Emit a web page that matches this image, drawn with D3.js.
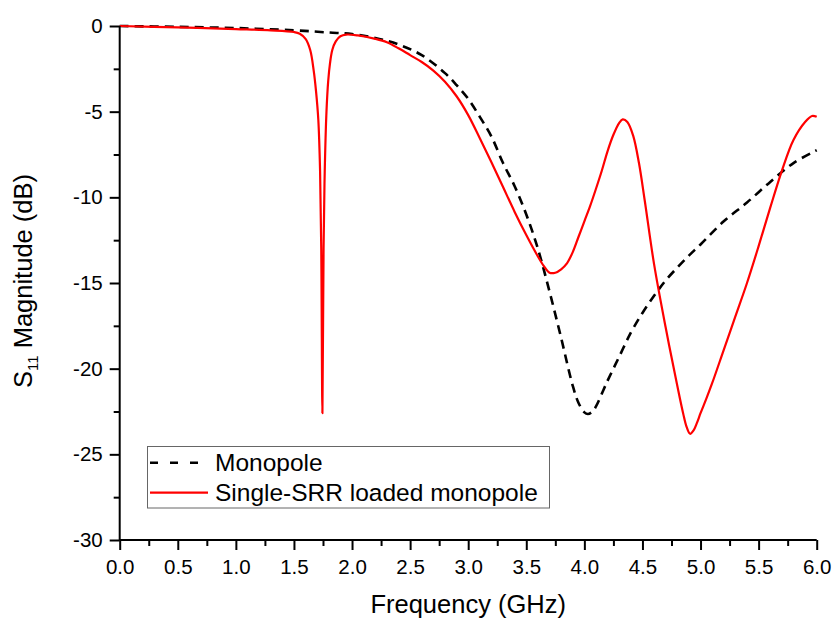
<!DOCTYPE html>
<html>
<head>
<meta charset="utf-8">
<script src="https://cdn.jsdelivr.net/npm/d3@7"></script>
<style>
  html, body { margin: 0; padding: 0; background: #fff; }
  svg { display: block; font-family: "Liberation Sans", Arial, sans-serif; }
</style>
</head>
<body>
<svg id="chart" width="832" height="619"></svg>
<script>
// ---- data ----
const monoFreq = [0, 0.5, 1.0, 1.5, 1.8, 2.0, 2.2, 2.4, 2.6, 2.8, 2.9, 3.0, 3.1, 3.2, 3.3, 3.4, 3.5, 3.6, 3.7, 3.8, 3.9, 3.95, 4.0, 4.03, 4.07, 4.1, 4.2, 4.3, 4.4, 4.5, 4.6, 4.7, 4.8, 4.9, 5.0, 5.2, 5.4, 5.6, 5.8, 6.0];
const monoS11 = [0, -0.05, -0.12, -0.25, -0.38, -0.47, -0.7, -1.08, -1.7, -2.75, -3.45, -4.25, -5.3, -6.45, -8.0, -9.35, -11.0, -13.0, -15.5, -18.2, -21.0, -22.0, -22.55, -22.65, -22.5, -22.2, -20.7, -19.3, -17.9, -16.75, -15.75, -14.85, -14.1, -13.4, -12.75, -11.4, -10.3, -9.1, -8.0, -7.25];

const srrFreq = [0, 0.5, 1.0, 1.3, 1.5, 1.55, 1.6, 1.64, 1.67, 1.69, 1.71, 1.725, 1.735, 1.745, 1.755, 1.765, 1.78, 1.795, 1.81, 1.83, 1.86, 1.9, 1.95, 2.05, 2.2, 2.3, 2.4, 2.5, 2.6, 2.7, 2.8, 2.9, 3.0, 3.1, 3.2, 3.3, 3.4, 3.5, 3.6, 3.65, 3.7, 3.75, 3.8, 3.85, 3.9, 3.95, 4.0, 4.05, 4.1, 4.15, 4.2, 4.25, 4.3, 4.33, 4.37, 4.42, 4.47, 4.52, 4.6, 4.7, 4.8, 4.85, 4.88, 4.91, 4.94, 4.97, 5.0, 5.05, 5.1, 5.2, 5.3, 5.4, 5.5, 5.6, 5.7, 5.8, 5.9, 5.96, 6.0];
const srrS11 = [0, -0.08, -0.18, -0.25, -0.35, -0.45, -0.75, -1.4, -2.6, -3.8, -5.5, -8.5, -13, -22.6, -13, -8.5, -5.0, -3.2, -2.2, -1.4, -0.9, -0.6, -0.5, -0.55, -0.75, -0.95, -1.3, -1.7, -2.1, -2.6, -3.25, -4.1, -5.2, -6.55, -7.95, -9.4, -10.85, -12.2, -13.45, -14.0, -14.4, -14.4, -14.2, -13.85, -13.2, -12.3, -11.4, -10.5, -9.5, -8.45, -7.3, -6.35, -5.65, -5.45, -5.6, -6.4, -8.0, -10.2, -13.9, -17.6, -21.0, -22.6, -23.4, -23.8, -23.6, -23.15, -22.6, -21.75, -20.85, -18.9, -16.95, -15.0, -12.85, -10.6, -8.45, -6.65, -5.6, -5.25, -5.3];

const xTicks = [0, 0.5, 1.0, 1.5, 2.0, 2.5, 3.0, 3.5, 4.0, 4.5, 5.0, 5.5, 6.0];
const xMinorTicks = [0.25, 0.75, 1.25, 1.75, 2.25, 2.75, 3.25, 3.75, 4.25, 4.75, 5.25, 5.75];
const yTicks = [0, -5, -10, -15, -20, -25, -30];
const yMinorTicks = [-2.5, -7.5, -12.5, -17.5, -22.5, -27.5];
const seriesNames = ["Monopole", "Single-SRR loaded monopole"];
const xTitle = "Frequency (GHz)";

// ---- chart ----
const svg = d3.select("#chart");
const x = d3.scaleLinear().domain([0, 6]).range([119.7, 816.7]);
const y = d3.scaleLinear().domain([-30, 0]).range([540, 26]);

const line = d3.line()
  .x(d => x(d[0])).y(d => y(d[1]))
  .curve(d3.curveCatmullRom.alpha(0.5));

const monoData = monoFreq.map((f, i) => [f, monoS11[i]]);
const srrData = srrFreq.map((f, i) => [f, srrS11[i]]);

svg.append("path").datum(monoData)
  .attr("d", line).attr("fill", "none")
  .attr("stroke", "#000").attr("stroke-width", 2.6)
  .attr("stroke-dasharray", "9,6");

svg.append("path").datum(srrData)
  .attr("d", line).attr("fill", "none")
  .attr("stroke", "#ff0000").attr("stroke-width", 2.2)
  .attr("stroke-linejoin", "round");

// axes
const gx = svg.append("g").attr("transform", `translate(0,${y(-30)})`)
  .call(d3.axisBottom(x).tickValues(xTicks).tickSize(10).tickPadding(9)
    .tickFormat(d => d.toFixed(1)));
const gxm = svg.append("g").attr("transform", `translate(0,${y(-30)})`)
  .call(d3.axisBottom(x).tickValues(xMinorTicks).tickSize(6).tickFormat(""));
const gy = svg.append("g").attr("transform", `translate(${x(0)},0)`)
  .call(d3.axisLeft(y).tickValues(yTicks).tickSize(10).tickPadding(7)
    .tickFormat(d => String(d)));
const gym = svg.append("g").attr("transform", `translate(${x(0)},0)`)
  .call(d3.axisLeft(y).tickValues(yMinorTicks).tickSize(6).tickFormat(""));

[gx, gxm, gy, gym].forEach(g => {
  g.selectAll(".domain").attr("stroke", "#000").attr("stroke-width", 2);
  g.selectAll(".tick line").attr("stroke", "#000").attr("stroke-width", 2);
  g.selectAll(".tick text").attr("fill", "#000")
    .style("font-family", '"Liberation Sans", Arial, sans-serif')
    .style("font-size", "20.5px");
});
gx.select(".domain").attr("d", `M${x(0)},0H${x(6)}`);
gy.select(".domain").attr("d", `M0,${y(-30)}V${y(0)}`);
gxm.select(".domain").remove();
gym.select(".domain").remove();

// axis titles
svg.append("text")
  .attr("x", (x(0) + x(6)) / 2).attr("y", 613)
  .attr("text-anchor", "middle")
  .style("font-size", "25.5px").attr("fill", "#000")
  .text(xTitle);

const yt = svg.append("text")
  .attr("transform", `translate(32,${(y(0) + y(-30)) / 2 - 2}) rotate(-90)`)
  .attr("text-anchor", "middle")
  .style("font-size", "25.5px").attr("fill", "#000");
yt.append("tspan").text("S");
yt.append("tspan").text("11").style("font-size", "15px").attr("dy", 6);
yt.append("tspan").text(" Magnitude (dB)").attr("dy", -6);

// legend
const lg = svg.append("g");
lg.append("rect")
  .attr("x", 147.5).attr("y", 446.5).attr("width", 402).attr("height", 61.5)
  .attr("fill", "#fff").attr("stroke", "#666").attr("stroke-width", 1);
lg.append("line").attr("x1", 150).attr("x2", 208).attr("y1", 462.7).attr("y2", 462.7)
  .attr("stroke", "#000").attr("stroke-width", 2.6).attr("stroke-dasharray", "8,12");
lg.append("line").attr("x1", 150).attr("x2", 208).attr("y1", 492.7).attr("y2", 492.7)
  .attr("stroke", "#ff0000").attr("stroke-width", 2.2);
lg.append("text").attr("x", 215).attr("y", 471).style("font-size", "24.5px").attr("fill", "#000").text(seriesNames[0]);
lg.append("text").attr("x", 215).attr("y", 501).style("font-size", "24.5px").attr("fill", "#000").text(seriesNames[1]);
</script>
</body>
</html>
